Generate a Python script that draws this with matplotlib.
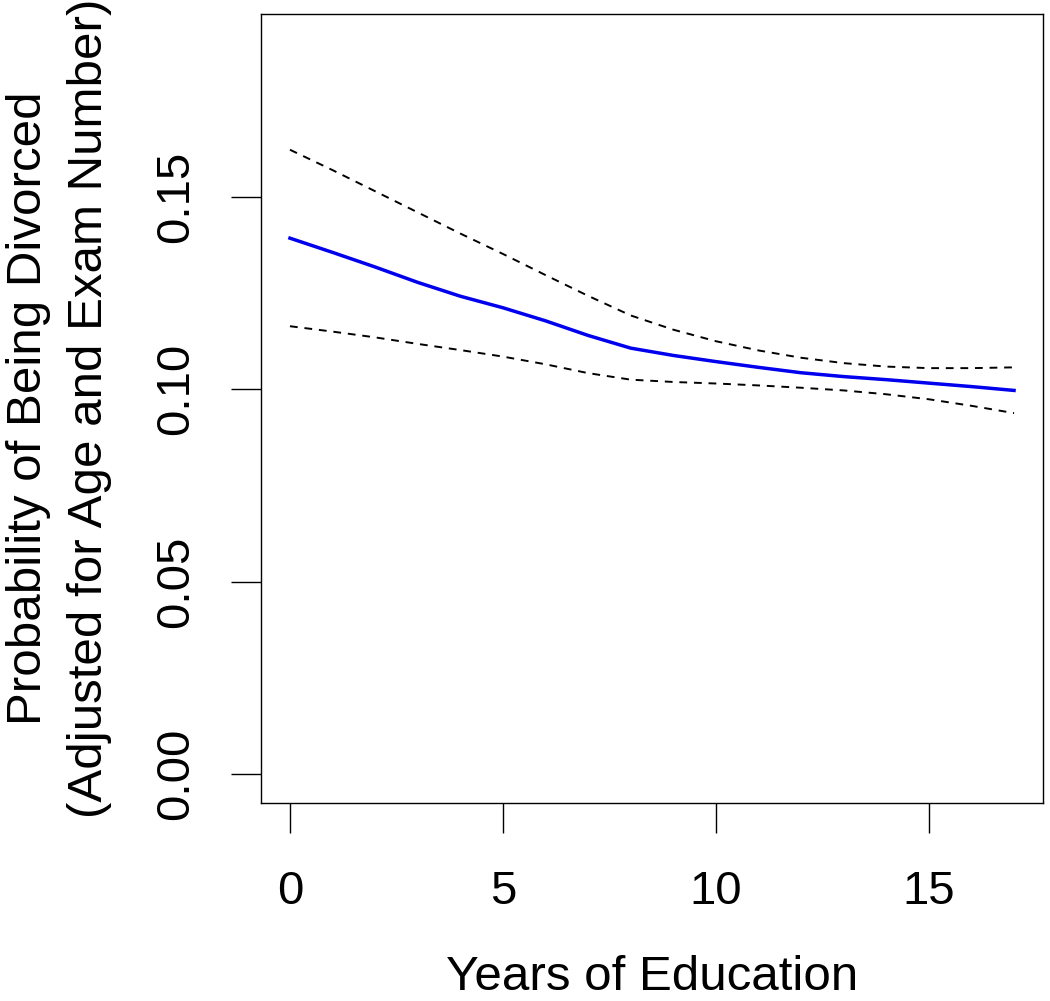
import numpy as np
import matplotlib
matplotlib.use("Agg")
import matplotlib.pyplot as plt

# years of education and fitted probability with pointwise bands
educ = [0, 1, 2, 3, 4, 5, 6, 7, 8, 9, 10, 11, 12, 13, 14, 15, 16, 17]
fit = [0.1393, 0.1356, 0.1318, 0.1278, 0.1242, 0.1212, 0.1178, 0.1140, 0.1107,
       0.1088, 0.1072, 0.1057, 0.1043, 0.1033, 0.1025, 0.1016, 0.1007, 0.0997]
upper = [0.1623, 0.1570, 0.1515, 0.1460, 0.1405, 0.1352, 0.1297, 0.1243, 0.1192,
         0.1155, 0.1125, 0.1101, 0.1082, 0.1068, 0.1059, 0.1055, 0.1055, 0.1057]
lower = [0.1164, 0.1150, 0.1135, 0.1118, 0.1102, 0.1085, 0.1065, 0.1042, 0.1025,
         0.1019, 0.1015, 0.1010, 0.1004, 0.0997, 0.0987, 0.0974, 0.0957, 0.0938]

xticks = [0, 5, 10, 15]
yticks = [0.00, 0.05, 0.10, 0.15]
ytick_labels = ["0.00", "0.05", "0.10", "0.15"]

plt.rcParams['font.family'] = ['Liberation Sans', 'DejaVu Sans']

fig = plt.figure(figsize=(10.5, 10.01), dpi=100)
ax = fig.add_axes([261/1050, 1 - 803/1001, (1043-261)/1050, (803-14)/1001])

ax.plot(educ, fit, color='#0000ee', linewidth=2.5)
ax.plot(educ, upper, color='black', linewidth=1.4, dashes=(4, 3.5))
ax.plot(educ, lower, color='black', linewidth=1.4, dashes=(4, 3.5))

ax.set_xlim(-0.68, 17.68)
ax.set_ylim(-0.0076, 0.1976)
ax.set_xticks(xticks)
ax.set_yticks(yticks)
ax.set_yticklabels(ytick_labels, rotation=90, va='center')
ax.tick_params(length=21.6, width=1.0, labelsize=34)
ax.tick_params(axis='x', pad=27)
ax.tick_params(axis='y', pad=24)
for s in ax.spines.values():
    s.set_linewidth(1.0)

ax.set_xlabel('Years of Education', fontsize=35.5, labelpad=29)
ax.set_ylabel('Probability of Being Divorced\n(Adjusted for Age and Exam Number)',
              fontsize=35.5, labelpad=30, linespacing=1.45)

fig.savefig('out.png', dpi=100)
